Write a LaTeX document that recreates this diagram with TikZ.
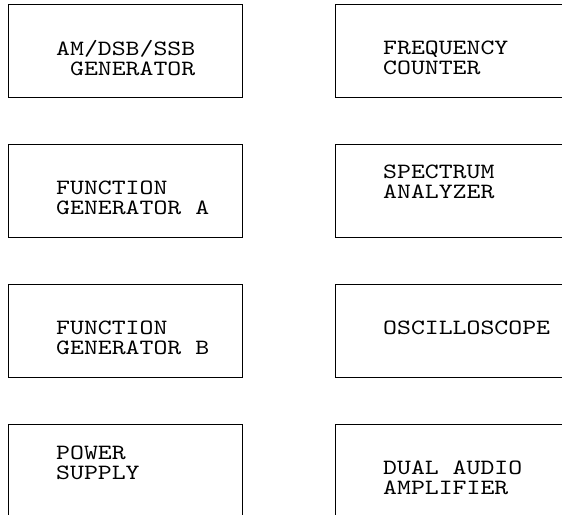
\documentclass[tikz,border=0pt]{standalone}
\usepackage{fontspec}
\newfontfamily\unitfont{lmmono10-regular.otf}[FakeStretch=1.215]
\usetikzlibrary{positioning}
\tikzset{
  unit/.style={draw=black, line width=1pt, minimum width=234pt, minimum height=93.7pt, inner sep=0pt, outer sep=0pt},
  unitlabel/.style={anchor=base west, align=left, inner sep=0pt, font=\unitfont\fontsize{21.8pt}{20pt}\selectfont}
}
\begin{document}
\begin{tikzpicture}[x=1pt, y=-1pt, node distance=46.3pt and 93.6pt]
\useasboundingbox (0,0) rectangle (562,514);
\node[unit, anchor=north west] (amgen) at (8,4) {};
\node[unit, below=of amgen] (funca) {};
\node[unit, below=of funca] (funcb) {};
\node[unit, below=of funcb] (power) {};
\node[unit, right=of amgen] (freq) {};
\node[unit, below=of freq] (spec) {};
\node[unit, below=of spec] (scope) {};
\node[unit, below=of scope] (audio) {};
% labels sit on the baseline of their last line
\node[unitlabel] (amgen-t) at ([shift={(48pt,-71pt)}]amgen.north west) {AM/DSB/SSB\\~GENERATOR};
\node[unitlabel] (funca-t) at ([shift={(48pt,-70pt)}]funca.north west) {FUNCTION\\GENERATOR A};
\node[unitlabel] (funcb-t) at ([shift={(48pt,-70pt)}]funcb.north west) {FUNCTION\\GENERATOR B};
\node[unitlabel] (power-t) at ([shift={(48pt,-55.5pt)}]power.north west) {POWER\\SUPPLY};
\node[unitlabel] (freq-t) at ([shift={(47.4pt,-70.7pt)}]freq.north west) {FREQUENCY\\COUNTER};
\node[unitlabel] (spec-t) at ([shift={(47.4pt,-54.5pt)}]spec.north west) {SPECTRUM\\ANALYZER};
\node[unitlabel] (scope-t) at ([shift={(47.4pt,-50.7pt)}]scope.north west) {OSCILLOSCOPE};
\node[unitlabel] (audio-t) at ([shift={(47.4pt,-70.7pt)}]audio.north west) {DUAL AUDIO\\AMPLIFIER};
\end{tikzpicture}
\end{document}
